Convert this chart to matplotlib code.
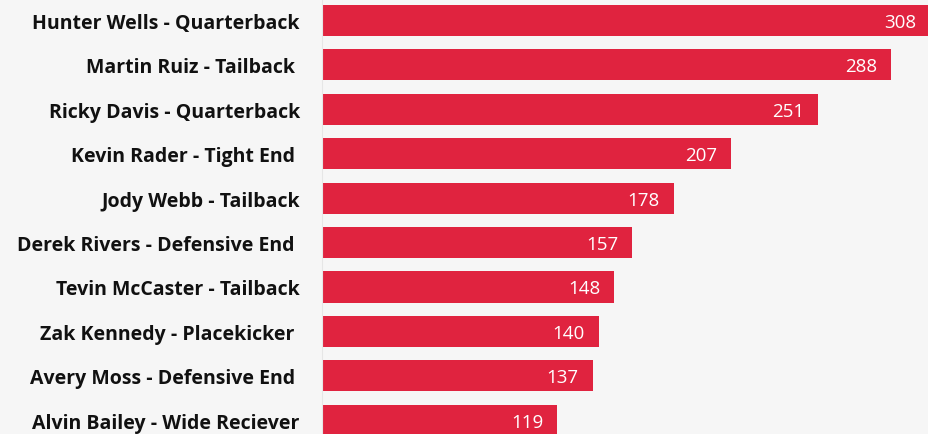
import matplotlib.pyplot as plt

players = ["Hunter Wells - Quarterback", "Martin Ruiz - Tailback ", "Ricky Davis - Quarterback",
           "Kevin Rader - Tight End ", "Jody Webb - Tailback", "Derek Rivers - Defensive End ",
           "Tevin McCaster - Tailback", "Zak Kennedy - Placekicker ", "Avery Moss - Defensive End ",
           "Alvin Bailey - Wide Reciever"]
points = [308, 288, 251, 207, 178, 157, 148, 140, 137, 119]

bar_color = '#E0233F'
bg = '#F6F6F6'

fig = plt.figure(figsize=(9.29, 4.35), dpi=100, facecolor=bg)
ax = fig.add_axes([322/929, 0, 1 - 322/929, 1], facecolor=bg)

pos = list(range(len(players)))
ax.barh(pos, points, height=0.7, color=bar_color)

for i, v in enumerate(points):
    ax.annotate(str(v), (v, i), xytext=(-10, -1), textcoords='offset points',
                ha='right', va='center', color='white', fontsize=13.5, family='Open Sans',
                annotation_clip=False)

ax.set_xlim(0, 307.2)
ax.set_ylim(9.31, -0.484)
ax.set_yticks(pos)
ax.set_yticklabels(players, fontsize=14, fontweight='bold', family='Open Sans', color='#111111')
ax.tick_params(axis='y', length=0, pad=16)
ax.set_xticks([])
for s in ['top', 'right', 'bottom']:
    ax.spines[s].set_visible(False)
ax.spines['left'].set_color('#e6e6e6')

fig.savefig('out.png', dpi=100, facecolor=bg)
